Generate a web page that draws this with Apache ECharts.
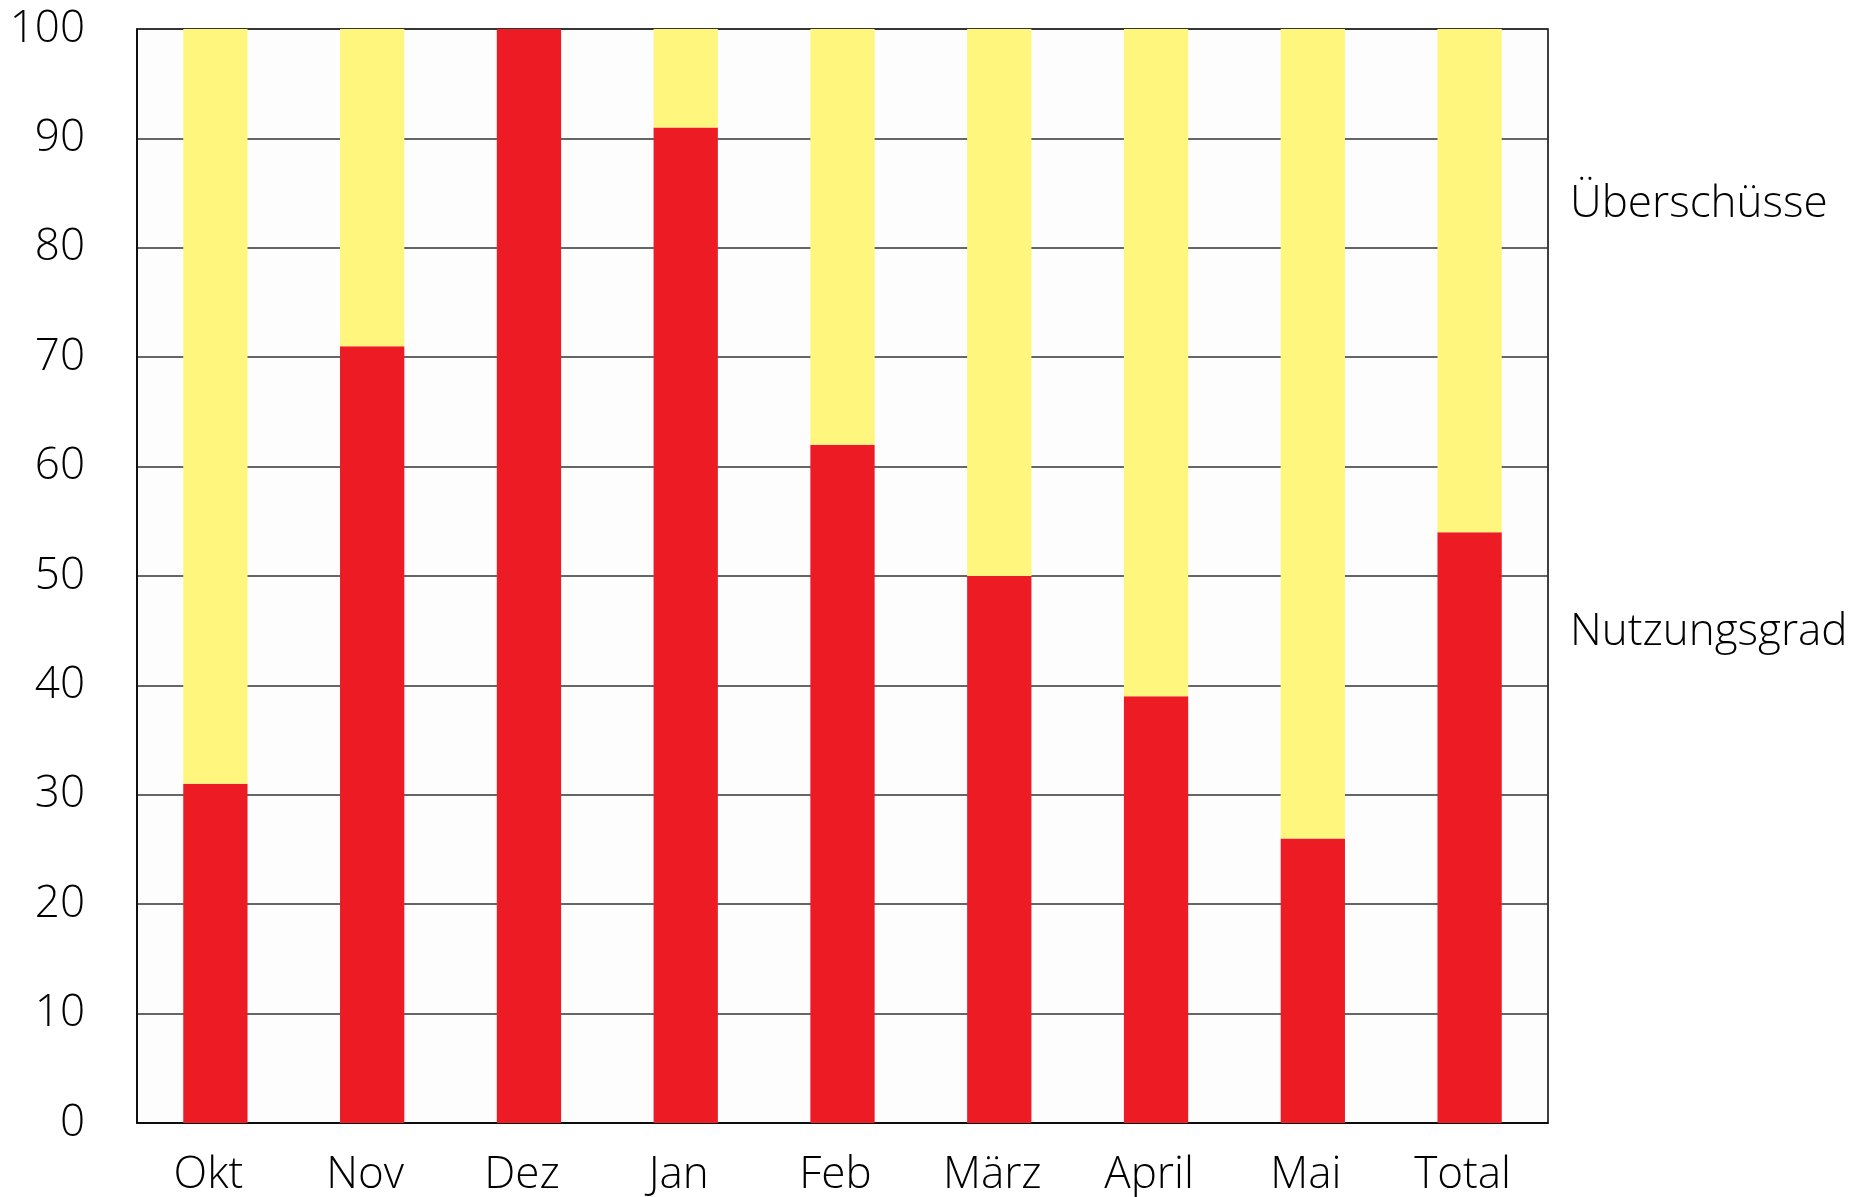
<!DOCTYPE html>
<html>
<head>
<meta charset="utf-8">
<script src="https://cdn.jsdelivr.net/npm/echarts@6/dist/echarts.min.js"></script>
<style>
html,body{margin:0;padding:0;background:#fff;}
#chart{width:1870px;height:1197px;}
</style>
</head>
<body>
<div id="chart"></div>
<script>
var categories = ['Okt', 'Nov', 'Dez', 'Jan', 'Feb', 'März', 'April', 'Mai', 'Total'];
var nutzungsgrad = [31, 71, 100, 91, 62, 50, 39, 26, 54];
var ueberschuesse = [69, 29, 0, 9, 38, 50, 61, 74, 46];
var seriesNames = ['Nutzungsgrad', 'Überschüsse'];

var FONT = '"Open Sans", "Noto Sans", sans-serif';
var chart = echarts.init(document.getElementById('chart'));
chart.setOption({
  animation: false,
  backgroundColor: '#ffffff',
  grid: {
    left: 137, right: 322, top: 29, bottom: 73,
    show: true, borderColor: '#000', borderWidth: 1.5, backgroundColor: '#fdfdfd'
  },
  xAxis: {
    type: 'category',
    data: categories,
    axisTick: { show: false },
    axisLine: { show: true, lineStyle: { color: '#000', width: 1.5 } },
    axisLabel: { color: '#000', fontSize: 44, fontFamily: FONT, fontWeight: 300, margin: 30, padding: [0, 14, 0, 0] }
  },
  yAxis: {
    type: 'value',
    min: 0, max: 100, interval: 10,
    axisLine: { show: true, lineStyle: { color: '#000', width: 1.5 } },
    axisTick: { show: false },
    splitLine: { show: true, lineStyle: { color: '#333', width: 1.5 } },
    axisLabel: { color: '#000', fontSize: 44, fontFamily: FONT, fontWeight: 300, margin: 52 }
  },
  series: [
    {
      name: seriesNames[0], type: 'bar', stack: 'a', data: nutzungsgrad,
      barWidth: '41%', itemStyle: { color: '#ED1C24' }, z: 3
    },
    {
      name: seriesNames[1], type: 'bar', stack: 'a', data: ueberschuesse,
      barWidth: '41%', itemStyle: { color: '#FFF67D' }, z: 3
    }
  ],
  graphic: [
    { type: 'text', left: 1570, top: 182, style: { text: seriesNames[1], fill: '#000', font: '300 44px ' + FONT } },
    { type: 'text', left: 1570, top: 610, style: { text: seriesNames[0], fill: '#000', font: '300 44px ' + FONT } }
  ]
});
</script>
</body>
</html>
